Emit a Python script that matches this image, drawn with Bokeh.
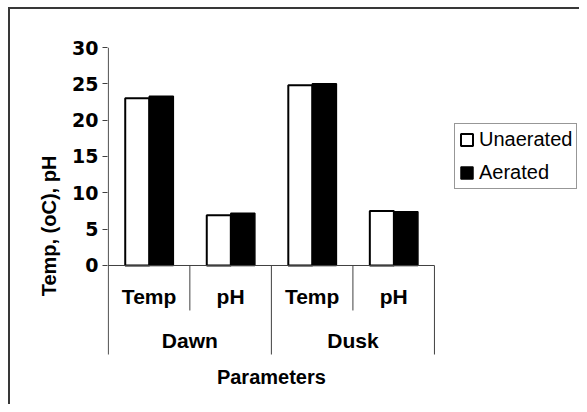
from bokeh.plotting import figure
from bokeh.models import Range1d, FixedTicker, ColumnDataSource, Legend, LegendItem
from bokeh.core.properties import value
from bokeh.transform import dodge
from bokeh.embed import file_html
from bokeh.resources import INLINE

# ---- data ----
periods = ["Dawn", "Dusk"]
parameters = ["Temp", "pH"]
series_names = ["Unaerated", "Aerated"]
unaerated = [23.0, 6.9, 24.8, 7.5]
aerated = [23.3, 7.2, 25.0, 7.4]
y_ticks = [0, 5, 10, 15, 20, 25, 30]
y_title = "Temp, (oC), pH"
x_title = "Parameters"

FONT = "Liberation Sans"
TICK_FONT = "DejaVu Sans"
LINE = "#404040"

n_cat = len(periods) * len(parameters)
centers = [i + 0.5 for i in range(n_cat)]
sub_labels = [prm for _ in periods for prm in parameters]
group_centers = [len(parameters) * (g + 0.5) for g in range(len(periods))]

src = ColumnDataSource(dict(x=centers, un=unaerated, ae=aerated))

# frame spans 107..579 px horizontally, 47..404 px vertically;
# categories are 81.5 px wide, y scale 7.2667 px per unit
p = figure(width=579, height=404, output_backend="svg", toolbar_location=None,
           x_range=Range1d(-0.01, n_cat * 471 / 326), y_range=Range1d(-19.13, 30),
           min_border_left=107, min_border_right=0, min_border_top=47,
           min_border_bottom=0)
p.border_fill_color = None
p.background_fill_color = "white"
p.outline_line_color = None
p.grid.visible = False
p.xaxis.visible = False
p.styles = {"box-shadow": "inset 8px 7px 0 0 white, inset 10px 9px 0 0 #383838"}

# bars
r_un = p.vbar(x=dodge("x", -0.145), top="un", width=0.295, source=src,
              fill_color="white", line_color="black", line_width=2)
r_ae = p.vbar(x=dodge("x", 0.15), top="ae", width=0.295, source=src,
              fill_color="black", line_color="black", line_width=1.5)

# value axis line, category axis line and separators (Excel-style multi-level axis)
p.segment(x0=[0], y0=[y_ticks[-1]], x1=[0], y1=[-12.25], line_color=LINE, line_width=1)
p.segment(x0=[0], y0=[0], x1=[n_cat], y1=[0], line_color=LINE, line_width=1)
sep_x = list(range(1, n_cat + 1))
sep_y1 = [-12.25 if i % len(parameters) == 0 else -6.19 for i in sep_x]
p.segment(x0=sep_x, y0=[0] * len(sep_x), x1=sep_x, y1=sep_y1,
          line_color=LINE, line_width=1)

p.text(x=centers, y=[-4.27] * n_cat, text=sub_labels, text_align="center",
       text_baseline="middle", text_font=value(FONT), text_font_style="bold",
       text_font_size="21px", text_color="black")
p.text(x=group_centers, y=[-10.32] * len(periods), text=periods, text_align="center",
       text_baseline="middle", text_font=value(FONT), text_font_style="bold",
       text_font_size="21px", text_color="black")
p.text(x=[n_cat / 2], y=[-15.41], text=[x_title], text_align="center",
       text_baseline="middle", text_font=value(FONT), text_font_style="bold",
       text_font_size="20px", text_color="black")

# y axis
ya = p.yaxis[0]
ya.ticker = FixedTicker(ticks=y_ticks)
ya.axis_line_color = None
ya.major_tick_line_color = LINE
ya.major_tick_out = 5
ya.major_tick_in = 0
ya.minor_tick_line_color = None
ya.major_label_standoff = 4
ya.major_label_text_font = TICK_FONT
ya.major_label_text_font_style = "bold"
ya.major_label_text_font_size = "19px"
ya.major_label_text_color = "black"
ya.axis_label = y_title
ya.axis_label_text_font = FONT
ya.axis_label_text_font_style = "bold"
ya.axis_label_text_font_size = "20px"
ya.axis_label_text_color = "black"
ya.axis_label_standoff = 9

legend = Legend(items=[LegendItem(label=series_names[0], renderers=[r_un]),
                       LegendItem(label=series_names[1], renderers=[r_ae])],
                location=(347, 215))
legend.border_line_color = "#303030"
legend.border_line_width = 1
legend.background_fill_color = "white"
legend.background_fill_alpha = 1
legend.label_text_font = FONT
legend.label_text_font_size = "20px"
legend.label_text_color = "black"
legend.glyph_width = 15
legend.glyph_height = 15
legend.label_standoff = 5
legend.padding = 4
legend.spacing = 10
legend.margin = 0
p.add_layout(legend, "center")

open("out.html", "w").write(file_html(p, INLINE))
